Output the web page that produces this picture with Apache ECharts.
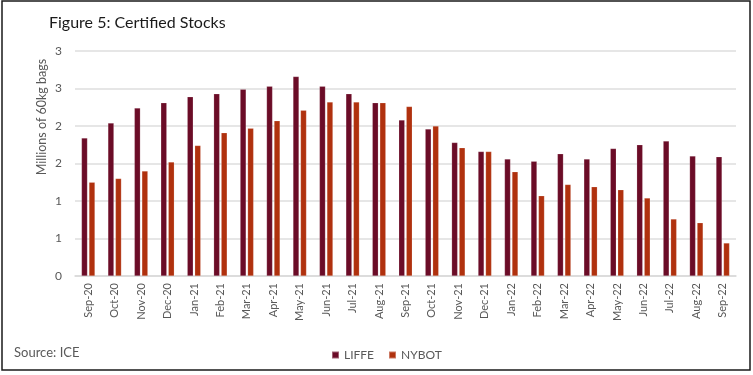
<!DOCTYPE html>
<html>
<head>
<meta charset="utf-8">
<script src="https://cdn.jsdelivr.net/npm/echarts@6/dist/echarts.min.js"></script>
<style>
html,body{margin:0;padding:0;background:#fff;}
#chart{width:753px;height:375px;}
</style>
</head>
<body>
<div id="chart"></div>
<script>
const categories = ['Sep-20','Oct-20','Nov-20','Dec-20','Jan-21','Feb-21','Mar-21','Apr-21','May-21','Jun-21','Jul-21','Aug-21','Sep-21','Oct-21','Nov-21','Dec-21','Jan-22','Feb-22','Mar-22','Apr-22','May-22','Jun-22','Jul-22','Aug-22','Sep-22'];
const liffe = [1.84,2.04,2.24,2.31,2.39,2.43,2.49,2.53,2.66,2.53,2.43,2.31,2.08,1.96,1.78,1.66,1.56,1.53,1.63,1.56,1.70,1.75,1.80,1.60,1.59];
const nybot = [1.25,1.30,1.40,1.52,1.74,1.91,1.97,2.07,2.21,2.32,2.32,2.31,2.26,2.00,1.71,1.66,1.39,1.07,1.22,1.19,1.15,1.04,0.76,0.71,0.44];
const yTickLabels = ['0','1','1','2','2','3','3'];

const chart = echarts.init(document.getElementById('chart'));
const txt = '#595959';
chart.setOption({
  animation: false,
  backgroundColor: '#fff',
  textStyle: { fontFamily: 'Lato' },
  title: {
    text: 'Figure 5: Certified Stocks',
    left: 44, top: 10,
    textStyle: { fontFamily: 'Lato', fontSize: 16, fontWeight: 'normal', color: '#1a1a1a' }
  },
  legend: {
    data: ['LIFFE','NYBOT'],
    left: 326, top: 344,
    itemWidth: 7, itemHeight: 7, itemGap: 14,
    icon: 'rect',
    textStyle: { fontFamily: 'Lato', fontSize: 12, color: txt }
  },
  grid: { left: 75, right: 17, top: 51, bottom: 99, containLabel: false },
  xAxis: {
    type: 'category',
    data: categories,
    axisLine: { lineStyle: { color: '#d9d9d9', width: 1.5 } },
    axisTick: { show: false },
    axisLabel: { rotate: 90, interval: 0, color: txt, fontSize: 11, margin: 7 }
  },
  yAxis: {
    type: 'value',
    min: 0, max: 3, interval: 0.5,
    axisLine: { show: false },
    axisTick: { show: false },
    splitLine: { lineStyle: { color: '#dedede', width: 1.5 } },
    axisLabel: {
      color: txt, fontSize: 12, margin: 13,
      formatter: function (v) { return yTickLabels[Math.round(v / 0.5)]; }
    }
  },
  series: [
    { name: 'LIFFE', type: 'bar', data: liffe, barWidth: 6, barGap: '25%',
      itemStyle: { color: '#6B0C27', borderColor: 'rgba(255,255,255,0.35)', borderWidth: 0.5 } },
    { name: 'NYBOT', type: 'bar', data: nybot, barWidth: 6,
      itemStyle: { color: '#B0310E', borderColor: 'rgba(255,255,255,0.35)', borderWidth: 0.5 } }
  ],
  graphic: [
    { type: 'rect', shape: { x: 2, y: 1, width: 748, height: 369 },
      style: { fill: null, stroke: '#1a1a1a', lineWidth: 1.5 }, silent: true },
    { type: 'text', left: 14, top: 346,
      style: { text: 'Source: ICE', fill: txt, fontSize: 13, fontFamily: 'Lato' } },
    { type: 'text', x: 42, y: 117, rotation: Math.PI / 2,
      style: { text: 'Millions of 60kg bags', fill: txt, fontSize: 12.5, fontFamily: 'Lato',
               align: 'center', verticalAlign: 'middle' } }
  ]
});
</script>
</body>
</html>
